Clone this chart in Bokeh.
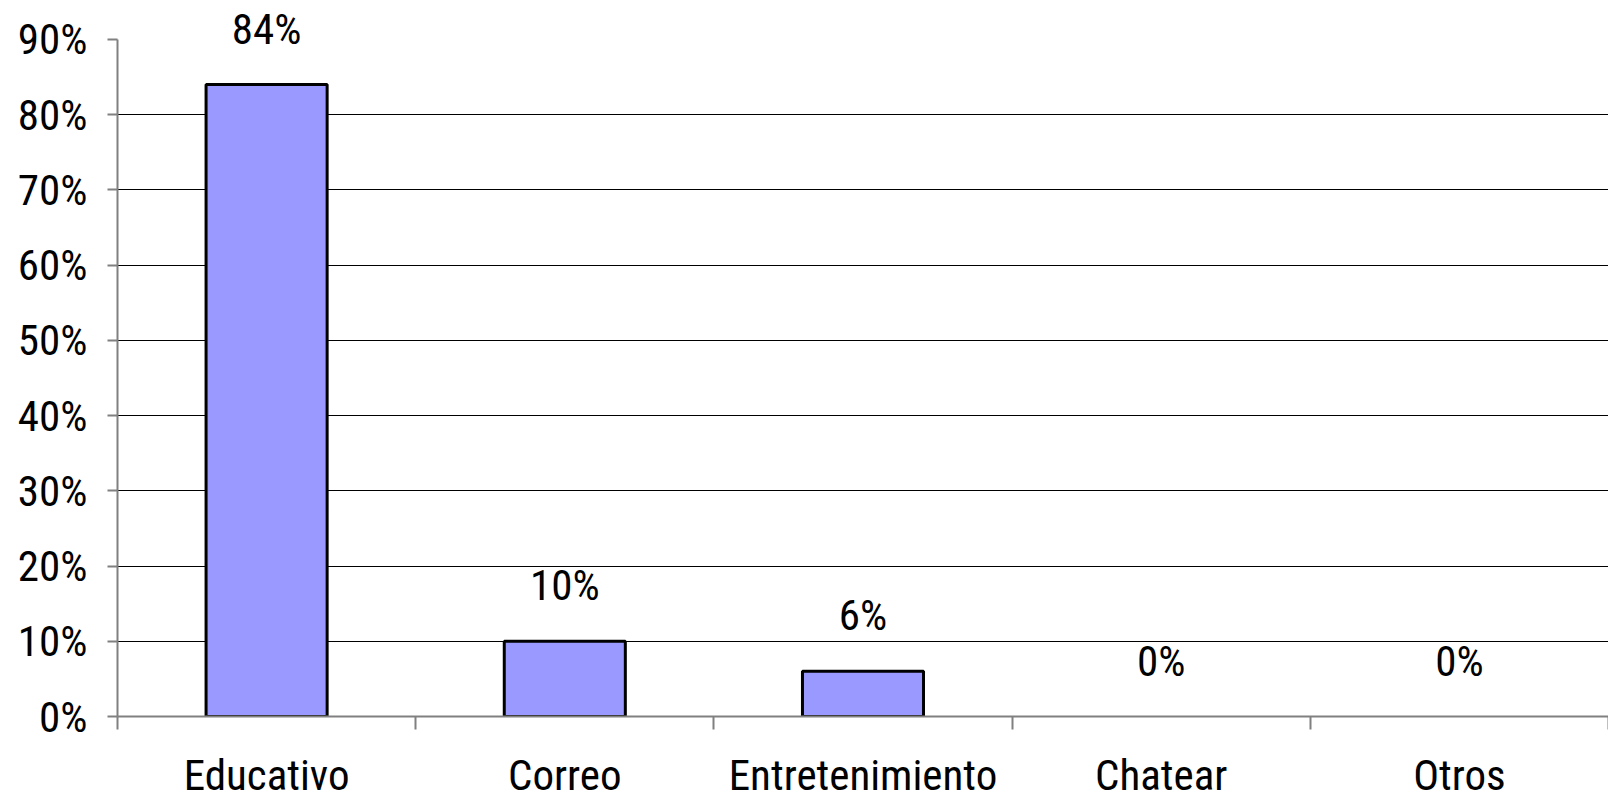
from bokeh.plotting import figure
from bokeh.models import (Range1d, FixedTicker, NumeralTickFormatter, LinearAxis,
                          ColumnDataSource, LabelSet, CDSView, BooleanFilter, Grid)
from bokeh.core.properties import value
from bokeh.embed import file_html
from bokeh.resources import INLINE

categories = ["Educativo", "Correo", "Entretenimiento", "Chatear", "Otros"]
values = [0.84, 0.10, 0.06, 0.0, 0.0]
value_labels = ["84%", "10%", "6%", "0%", "0%"]
y_ticks = [0.0, 0.1, 0.2, 0.3, 0.4, 0.5, 0.6, 0.7, 0.8, 0.9]

FONT = "'Roboto Condensed', 'Liberation Sans Narrow', 'Arial Narrow', 'Liberation Sans', sans-serif"
FS = "43px"
GRAY = "#808080"

x_pos = [i + 0.5 for i in range(len(categories))]
boundaries = [float(i) for i in range(len(categories) + 1)]

src = ColumnDataSource(dict(x=x_pos, top=values, label=value_labels, cat=categories))

# headroom above 90% so the top data label is not clipped
p = figure(width=1608, height=802, output_backend="svg", toolbar_location=None,
           x_range=Range1d(0, len(categories)), y_range=Range1d(0, 0.9517),
           x_axis_type=None, y_axis_type=None,
           min_border_left=117, min_border_right=0, min_border_top=0, min_border_bottom=84)
p.outline_line_color = None
p.background_fill_color = "white"
p.border_fill_color = "white"
p.xgrid.visible = False
p.ygrid.visible = False

grid = Grid(dimension=1, ticker=FixedTicker(ticks=y_ticks[1:-1]),
            grid_line_color="black", grid_line_width=1)
p.add_layout(grid)

yaxis = LinearAxis(ticker=FixedTicker(ticks=y_ticks, minor_ticks=[]),
                   formatter=NumeralTickFormatter(format="0%"),
                   bounds=(y_ticks[0], y_ticks[-1]))
yaxis.axis_line_color = GRAY
yaxis.axis_line_width = 2
yaxis.major_tick_line_color = GRAY
yaxis.major_tick_line_width = 2
yaxis.major_tick_out = 10
yaxis.major_tick_in = 0
yaxis.minor_tick_line_color = None
yaxis.major_label_standoff = 20
yaxis.major_label_text_font = FONT
yaxis.major_label_text_font_size = FS
yaxis.major_label_text_color = "black"
p.add_layout(yaxis, "left")

xaxis = LinearAxis(ticker=FixedTicker(ticks=x_pos, minor_ticks=boundaries))
xaxis.major_label_overrides = {xp: c for xp, c in zip(x_pos, categories)}
xaxis.axis_line_color = GRAY
xaxis.axis_line_width = 2
xaxis.major_tick_line_color = None
xaxis.major_tick_out = 0
xaxis.major_tick_in = 0
xaxis.minor_tick_line_color = GRAY
xaxis.minor_tick_line_width = 2
xaxis.minor_tick_out = 13
xaxis.minor_tick_in = 0
xaxis.major_label_standoff = 20
xaxis.major_label_text_font = FONT
xaxis.major_label_text_font_size = FS
xaxis.major_label_text_color = "black"
p.add_layout(xaxis, "below")

view = CDSView(filter=BooleanFilter([v > 0 for v in values]))
p.vbar(x="x", top="top", bottom=0, width=0.406, source=src, view=view,
       fill_color="#9999FF", line_color="black", line_width=3)

labels = LabelSet(x="x", y="top", text="label", source=src, y_offset=41,
                  text_align="center", text_baseline="alphabetic",
                  text_font=value(FONT), text_font_size=value(FS), text_color="black")
p.add_layout(labels)

open("out.html", "w").write(file_html(p, INLINE))
